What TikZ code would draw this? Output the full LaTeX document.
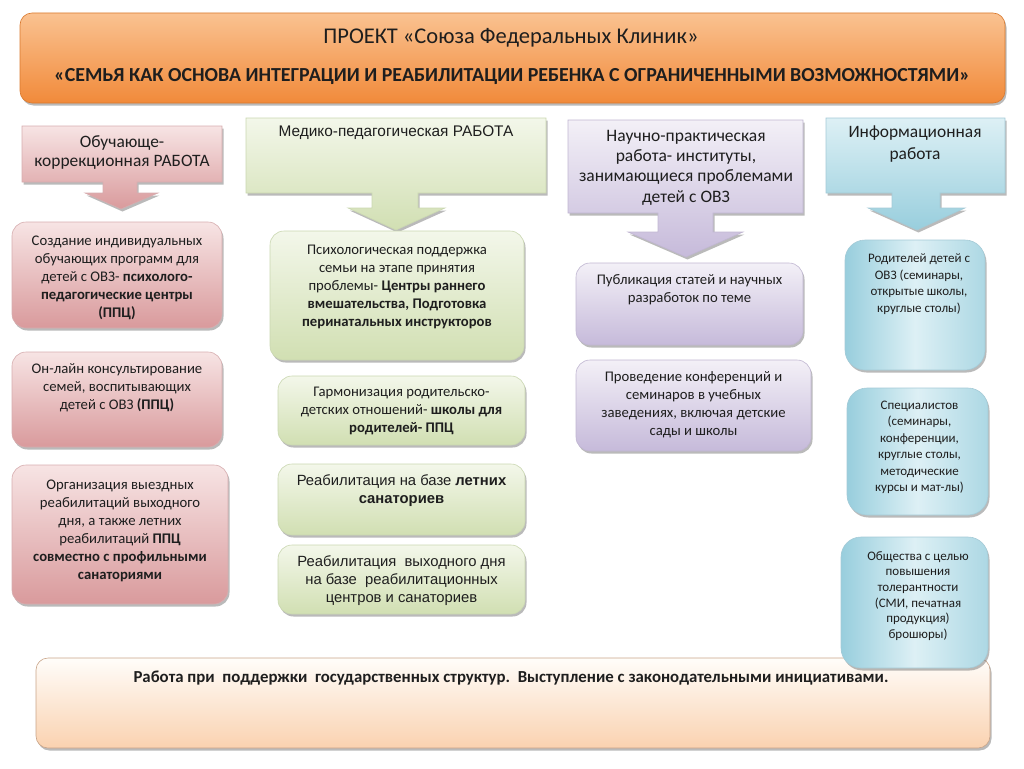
\documentclass[tikz,border=0pt]{standalone}
\usepackage{fontspec}
\setmainfont{Carlito}
\newfontfamily\arialf{Liberation Sans}
\usetikzlibrary{shadows}
\definecolor{pinkT}{HTML}{F7E4E4}
\definecolor{pinkB}{HTML}{D99A9C}
\definecolor{pinkD}{HTML}{C48A8C}
\definecolor{greenT}{HTML}{F3F7EA}
\definecolor{greenB}{HTML}{D1DFB2}
\definecolor{greenD}{HTML}{B3C690}
\definecolor{lavT}{HTML}{F3F0F7}
\definecolor{lavB}{HTML}{C6BADA}
\definecolor{lavD}{HTML}{A597BE}
\definecolor{blueT}{HTML}{DDF0F5}
\definecolor{blueB}{HTML}{98CEDD}
\definecolor{blueD}{HTML}{7DB3C4}
\definecolor{orT}{HTML}{FAC291}
\definecolor{orB}{HTML}{F18A3A}
\definecolor{orD}{HTML}{D9792E}
\definecolor{peachT}{HTML}{FFFDFA}
\definecolor{peachB}{HTML}{FAD2B0}
\definecolor{peachD}{HTML}{C9A488}
\definecolor{ink}{HTML}{1E1E1E}
\tikzset{
  sh/.style={drop shadow={shadow xshift=1.5pt, shadow yshift=-2.5pt, opacity=0.45, fill=black!60}},
  pbox/.style={sh, rounded corners=14pt, draw=pinkD!70, line width=0.6pt, top color=pinkT, bottom color=pinkB},
  gbox/.style={sh, rounded corners=14pt, draw=greenD!70, line width=0.6pt, top color=greenT, bottom color=greenB},
  lbox/.style={sh, rounded corners=14pt, draw=lavD!70, line width=0.6pt, top color=lavT, bottom color=lavB},
  bbox/.style={sh, rounded corners=20pt, draw=blueD!70, line width=0.6pt, left color=blueB, right color=blueB!80, middle color=blueT},
  tx/.style={align=center, text=ink, inner sep=0pt, font=\fontsize{14.7}{18}\selectfont},
  txa/.style={align=center, text=ink, inner sep=0pt, font=\arialf\fontsize{14.8}{18}\selectfont},
  txs/.style={align=center, text=ink, inner sep=0pt, font=\fontsize{13}{16.5}\selectfont},
  ht/.style={align=center, text=ink, inner sep=0pt, font=\fontsize{17.4}{19.5}\selectfont},
}
\begin{document}
\begin{tikzpicture}[x=1pt,y=-1pt]
\useasboundingbox (0,0) rectangle (1024,768);
% title
\node[sh, rounded corners=12pt, draw=orD, line width=0.6pt, top color=orT, bottom color=orB,
  minimum width=985pt, minimum height=90pt] (title) at (512.5,58) {};
\node[ht, font=\fontsize{22.5}{24}\selectfont] (title1) at (511,38) {ПРОЕКТ «Союза Федеральных Клиник»};
\node[ht, font=\bfseries\fontsize{19.9}{24}\selectfont] (title2) at (512,77) {«СЕМЬЯ КАК ОСНОВА ИНТЕГРАЦИИ И РЕАБИЛИТАЦИИ РЕБЕНКА С ОГРАНИЧЕННЫМИ ВОЗМОЖНОСТЯМИ»};

% header callouts
\path[sh, draw=pinkD!70, line width=0.6pt, top color=pinkT, bottom color=pinkB]
  (22,126) -- (222,126) -- (222,182) -- (137,182) -- (137,193) -- (158,193) -- (121,209)
  -- (85,193) -- (103,193) -- (103,182) -- (22,182) -- cycle;
\node[ht] (h1) at (122,152.5) {Обучающе-\\коррекционная РАБОТА};

\path[sh, draw=greenD!70, line width=0.6pt, top color=greenT, bottom color=greenB]
  (246,118) -- (546,118) -- (546,193) -- (418,193) -- (418,208) -- (445,208) -- (396,230)
  -- (348,208) -- (372,208) -- (372,193) -- (246,193) -- cycle;
\node[ht, font=\arialf\fontsize{15.4}{18}\selectfont] (h2) at (396,133) {Медико-педагогическая РАБОТА};

\path[sh, draw=lavD!70, line width=0.6pt, top color=lavT, bottom color=lavB]
  (568,120) -- (803,120) -- (803,213) -- (713,213) -- (713,232) -- (743,232) -- (686,257)
  -- (628,232) -- (658,232) -- (658,213) -- (568,213) -- cycle;
\node[ht, font=\fontsize{17.5}{20.3}\selectfont] (h3) at (686,167.5) {Научно-практическая\\работа- институты,\\занимающиеся проблемами\\детей с ОВЗ};

\path[sh, draw=blueD!70, line width=0.6pt, top color=blueT, bottom color=blueB]
  (826,118) -- (1005,118) -- (1005,193) -- (940,193) -- (940,208) -- (965,208) -- (917,230)
  -- (868,208) -- (892,208) -- (892,193) -- (826,193) -- cycle;
\node[ht, font=\fontsize{17.4}{22}\selectfont] (h4) at (915,144) {Информационная\\работа};

% column 1
\node[pbox, minimum width=210pt, minimum height=106pt] (p1) at (117,275) {};
\node[tx] (p1t) at (117,278) {Создание индивидуальных\\обучающих программ для\\детей с ОВЗ- \textbf{психолого-}\\\textbf{педагогические центры}\\\textbf{(ППЦ)}};
\node[pbox, minimum width=210pt, minimum height=95pt] (p2) at (117,399.5) {};
\node[tx] (p2t) at (117,388) {Он-лайн консультирование\\семей, воспитывающих\\детей с ОВЗ \textbf{(ППЦ)}};
\node[pbox, minimum width=216pt, minimum height=139pt] (p3) at (120,534.5) {};
\node[tx] (p3t) at (120,530.5) {Организация выездных\\реабилитаций выходного\\дня, а также летних\\реабилитаций \textbf{ППЦ}\\\textbf{совместно с профильными}\\\textbf{санаториями}};

% column 2
\node[gbox, minimum width=254pt, minimum height=129pt] (g1) at (397,295.5) {};
\node[tx] (g1t) at (397,286.5) {Психологическая поддержка\\семьи на этапе принятия\\проблемы- \textbf{Центры раннего}\\\textbf{вмешательства, Подготовка}\\\textbf{перинатальных инструкторов}};
\node[gbox, minimum width=247pt, minimum height=69pt] (g2) at (401.5,410.5) {};
\node[tx] (g2t) at (401.5,411) {Гармонизация родительско-\\детских отношений- \textbf{школы для}\\\textbf{родителей- ППЦ}};
\node[gbox, minimum width=247pt, minimum height=71pt] (g3) at (401.5,499.5) {};
\node[txa] (g3t) at (401.5,491) {Реабилитация на базе \textbf{летних}\\\textbf{санаториев}};
\node[gbox, minimum width=247pt, minimum height=69pt] (g4) at (401.5,579.5) {};
\node[txa] (g4t) at (401.5,581) {Реабилитация\ \ выходного дня\\на базе\ \ реабилитационных\\центров и санаториев};

% column 3
\node[lbox, minimum width=227pt, minimum height=82pt] (l1) at (689.5,304) {};
\node[tx] (l1t) at (689.5,290) {Публикация статей и научных\\разработок по теме};
\node[lbox, minimum width=235pt, minimum height=91pt] (l2) at (693.5,405.5) {};
\node[tx] (l2t) at (693.5,405) {Проведение конференций и\\семинаров в учебных\\заведениях, включая детские\\сады и школы};

% bottom
\node[sh, rounded corners=12pt, draw=peachD, line width=0.6pt, top color=peachT, bottom color=peachB,
  minimum width=954pt, minimum height=90pt] (bot) at (513,703) {};
\node[tx, font=\bfseries\fontsize{16.8}{18}\selectfont] (bott) at (511,678) {Работа при\ \ поддержки\ \ государственных структур.\ \ Выступление с законодательными инициативами.};

% column 4
\node[bbox, minimum width=140pt, minimum height=130pt] (b1) at (915,305) {};
\node[txs] (b1t) at (919,284) {Родителей детей с\\ОВЗ (семинары,\\открытые школы,\\круглые столы)};
\node[bbox, minimum width=141pt, minimum height=127pt] (b2) at (917.5,451.5) {};
\node[txs] (b2t) at (919.5,447.5) {Специалистов\\(семинары,\\конференции,\\круглые столы,\\методические\\курсы и мат-лы)};
\node[bbox, minimum width=147pt, minimum height=131pt] (b3) at (914.5,602.5) {};
\node[txs, font=\fontsize{13}{15.6}\selectfont] (b3t) at (918,596) {Общества с целью\\повышения\\толерантности\\(СМИ, печатная\\продукция)\\брошюры)};
\end{tikzpicture}
\end{document}
